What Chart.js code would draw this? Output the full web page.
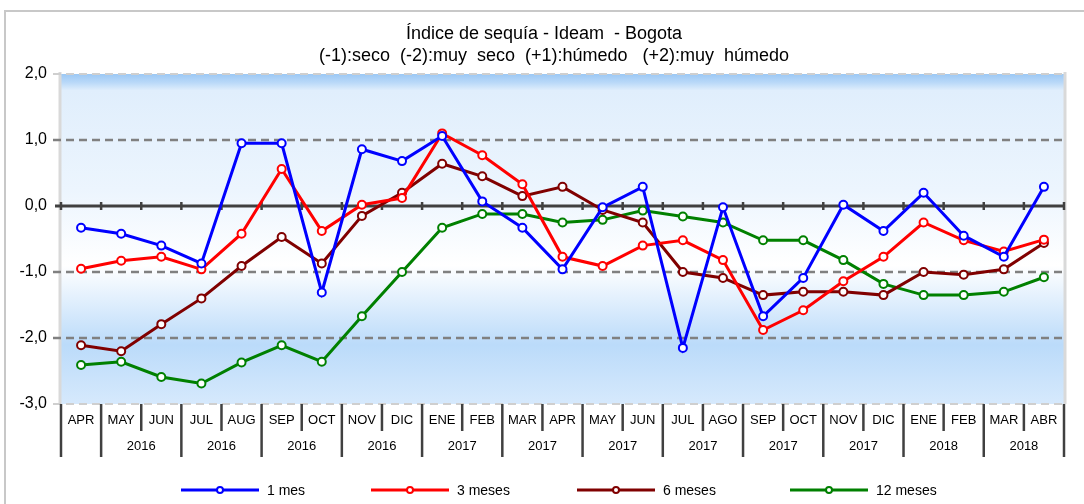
<!DOCTYPE html>
<html>
<head>
<meta charset="utf-8">
<script src="https://cdn.jsdelivr.net/npm/chart.js@4.4.1/dist/chart.umd.min.js"></script>
<style>
  body { margin: 0; background: #fff; }
  #wrap { width: 1084px; height: 504px; }
</style>
</head>
<body>
<div id="wrap"><canvas id="chart" width="1084" height="504"></canvas></div>
<script>
// Categories (months) and year groups below them
const months = ['APR', 'MAY', 'JUN', 'JUL', 'AUG', 'SEP', 'OCT', 'NOV', 'DIC',
    'ENE', 'FEB', 'MAR', 'APR', 'MAY', 'JUN', 'JUL', 'AGO', 'SEP', 'OCT', 'NOV', 'DIC',
    'ENE', 'FEB', 'MAR', 'ABR'];
const yearLabels = ['', '2016', '2016', '2016', '2016', '2017', '2017', '2017', '2017', '2017', '2017', '2018', '2018'];
const yearStarts = [0, 1, 3, 5, 7, 9, 11, 13, 15, 17, 19, 21, 23, 25];

// Series values
const mes1 = [-0.33, -0.42, -0.60, -0.87, 0.95, 0.95, -1.31, 0.86, 0.68, 1.06, 0.07, -0.33, -0.96,
    -0.02, 0.29, -2.15, -0.02, -1.67, -1.09, 0.02, -0.38, 0.20, -0.45, -0.77, 0.29];
const meses3 = [-0.95, -0.83, -0.77, -0.96, -0.42, 0.56, -0.38, 0.02, 0.12, 1.10, 0.77, 0.33, -0.77,
    -0.91, -0.60, -0.52, -0.82, -1.88, -1.58, -1.14, -0.77, -0.25, -0.52, -0.69, -0.51];
const meses6 = [-2.11, -2.20, -1.79, -1.40, -0.91, -0.47, -0.87, -0.15, 0.20, 0.64, 0.45, 0.15, 0.29,
    -0.06, -0.25, -1.00, -1.09, -1.35, -1.30, -1.30, -1.35, -1.00, -1.04, -0.96, -0.56];
const meses12 = [-2.41, -2.36, -2.59, -2.69, -2.37, -2.11, -2.36, -1.67, -1.00, -0.33, -0.12, -0.12, -0.25,
    -0.21, -0.07, -0.16, -0.25, -0.52, -0.52, -0.82, -1.18, -1.35, -1.35, -1.30, -1.08];

// Y tick labels
const yTicks = [2, 1, 0, -1, -2, -3];

const FONT = "'Liberation Sans', Arial, sans-serif";

const series = [
    { label: '1 mes', data: mes1, color: '#0000ff' },
    { label: '3 meses', data: meses3, color: '#ff0000' },
    { label: '6 meses', data: meses6, color: '#800000' },
    { label: '12 meses', data: meses12, color: '#008000' }
];

// Everything Excel-like around the plot: background, grid, axis, table, legend
const decor = {
    id: 'decor',
    beforeDraw(chart) {
        const c = chart.ctx;
        const a = chart.chartArea;
        const y = chart.scales.y;
        c.save();
        c.fillStyle = '#fff';
        c.fillRect(0, 0, chart.width, chart.height);

        // outer frame
        c.strokeStyle = '#c8c8c8';
        c.lineWidth = 2;
        c.beginPath();
        c.moveTo(5, 520);
        c.lineTo(5, 11);
        c.lineTo(1100, 11);
        c.stroke();

        // title
        c.fillStyle = '#000';
        c.textAlign = 'center';
        c.textBaseline = 'middle';
        c.font = '18px ' + FONT;
        c.fillText('Índice de sequía - Ideam  - Bogota', 544, 34);
        c.fillText('(-1):seco  (-2):muy  seco  (+1):húmedo   (+2):muy  húmedo', 554, 56);

        // plot background
        const g = c.createLinearGradient(0, a.top, 0, a.bottom);
        g.addColorStop(0, '#9cc8f4');
        g.addColorStop(0.025, '#b8d8f8');
        g.addColorStop(0.05, '#e0eefc');
        g.addColorStop(0.35, '#ecf5fe');
        g.addColorStop(0.58, '#ffffff');
        g.addColorStop(0.82, '#bbdbfa');
        g.addColorStop(1, '#d6e9fc');
        c.fillStyle = g;
        c.fillRect(a.left, a.top, a.right - a.left, a.bottom - a.top);

        // plot side borders
        c.strokeStyle = '#d9d9d9';
        c.lineWidth = 3;
        c.beginPath();
        c.moveTo(a.left - 1, a.top - 2);
        c.lineTo(a.left - 1, a.bottom);
        c.moveTo(a.right + 1, a.top - 2);
        c.lineTo(a.right + 1, a.bottom);
        c.stroke();

        // grid lines
        yTicks.forEach(v => {
            const py = Math.round(y.getPixelForValue(v));
            if (v === 0) return;
            const edge = (v === 2 || v === -3);
            c.strokeStyle = edge ? '#cfcfcf' : '#808080';
            c.lineWidth = edge ? 2 : 2.5;
            c.setLineDash([8, 5]);
            c.beginPath();
            c.moveTo(a.left - 8, py);
            c.lineTo(a.right, py);
            c.stroke();
        });
        c.setLineDash([]);

        // y labels
        c.fillStyle = '#000';
        c.textAlign = 'right';
        c.font = '16px ' + FONT;
        yTicks.forEach(v => {
            c.fillText(v.toFixed(1).replace('.', ','), 47, y.getPixelForValue(v));
        });
        c.restore();
    },
    beforeDatasetsDraw(chart) {
        const c = chart.ctx;
        const a = chart.chartArea;
        const x = chart.scales.x;
        const y0 = Math.round(chart.scales.y.getPixelForValue(0));
        const step = x.getPixelForValue(1) - x.getPixelForValue(0);
        c.save();
        c.strokeStyle = '#404040';
        c.lineWidth = 3;
        c.beginPath();
        c.moveTo(a.left - 6, y0);
        c.lineTo(a.right, y0);
        c.stroke();
        c.lineWidth = 2.5;
        for (let k = 0; k <= months.length; k++) {
            const bx = x.getPixelForValue(0) - step / 2 + k * step;
            c.beginPath();
            c.moveTo(bx, y0 - 4);
            c.lineTo(bx, y0 + 4);
            c.stroke();
        }
        c.restore();
    },
    afterDraw(chart) {
        const c = chart.ctx;
        const a = chart.chartArea;
        const x = chart.scales.x;
        const step = x.getPixelForValue(1) - x.getPixelForValue(0);
        const edge = k => x.getPixelForValue(0) - step / 2 + k * step;
        c.save();

        // category table
        c.strokeStyle = '#404040';
        c.lineWidth = 2.5;
        for (let k = 0; k <= months.length; k++) {
            const full = yearStarts.includes(k);
            c.beginPath();
            c.moveTo(edge(k), a.bottom);
            c.lineTo(edge(k), full ? a.bottom + 53 : a.bottom + 27);
            c.stroke();
        }
        c.fillStyle = '#000';
        c.textAlign = 'center';
        c.textBaseline = 'middle';
        c.font = '13px ' + FONT;
        months.forEach((m, i) => c.fillText(m, x.getPixelForValue(i), a.bottom + 16));
        yearLabels.forEach((lab, j) => {
            const mid = (edge(yearStarts[j]) + edge(yearStarts[j + 1])) / 2;
            c.fillText(lab, mid, a.bottom + 42);
        });

        // legend
        const legendX = [181, 371, 577, 790];
        const ly = 490;
        c.textAlign = 'left';
        c.font = '14px ' + FONT;
        series.forEach((s, i) => {
            const lx = legendX[i];
            c.strokeStyle = s.color;
            c.lineWidth = 3;
            c.beginPath();
            c.moveTo(lx, ly);
            c.lineTo(lx + 78, ly);
            c.stroke();
            c.fillStyle = '#fff';
            c.lineWidth = 2;
            c.beginPath();
            c.arc(lx + 39, ly, 3, 0, Math.PI * 2);
            c.fill();
            c.stroke();
            c.fillStyle = '#000';
            c.fillText(s.label, lx + 86, ly + 1);
        });
        c.restore();
    }
};

const ctx = document.getElementById('chart').getContext('2d');

new Chart(ctx, {
    type: 'line',
    data: {
        labels: months,
        datasets: series.map(s => ({
            label: s.label,
            data: s.data,
            borderColor: s.color,
            borderWidth: 3,
            pointRadius: 4,
            pointBorderWidth: 2,
            pointBackgroundColor: '#fff',
            pointBorderColor: s.color,
            tension: 0,
            fill: false
        }))
    },
    options: {
        responsive: false,
        animation: false,
        layout: { padding: { left: 61, right: 20, top: 74, bottom: 100 } },
        scales: {
            x: { display: false, offset: true },
            y: { display: false, min: -3, max: 2 }
        },
        plugins: {
            legend: { display: false },
            tooltip: { enabled: false }
        }
    },
    plugins: [decor]
});
</script>
</body>
</html>
